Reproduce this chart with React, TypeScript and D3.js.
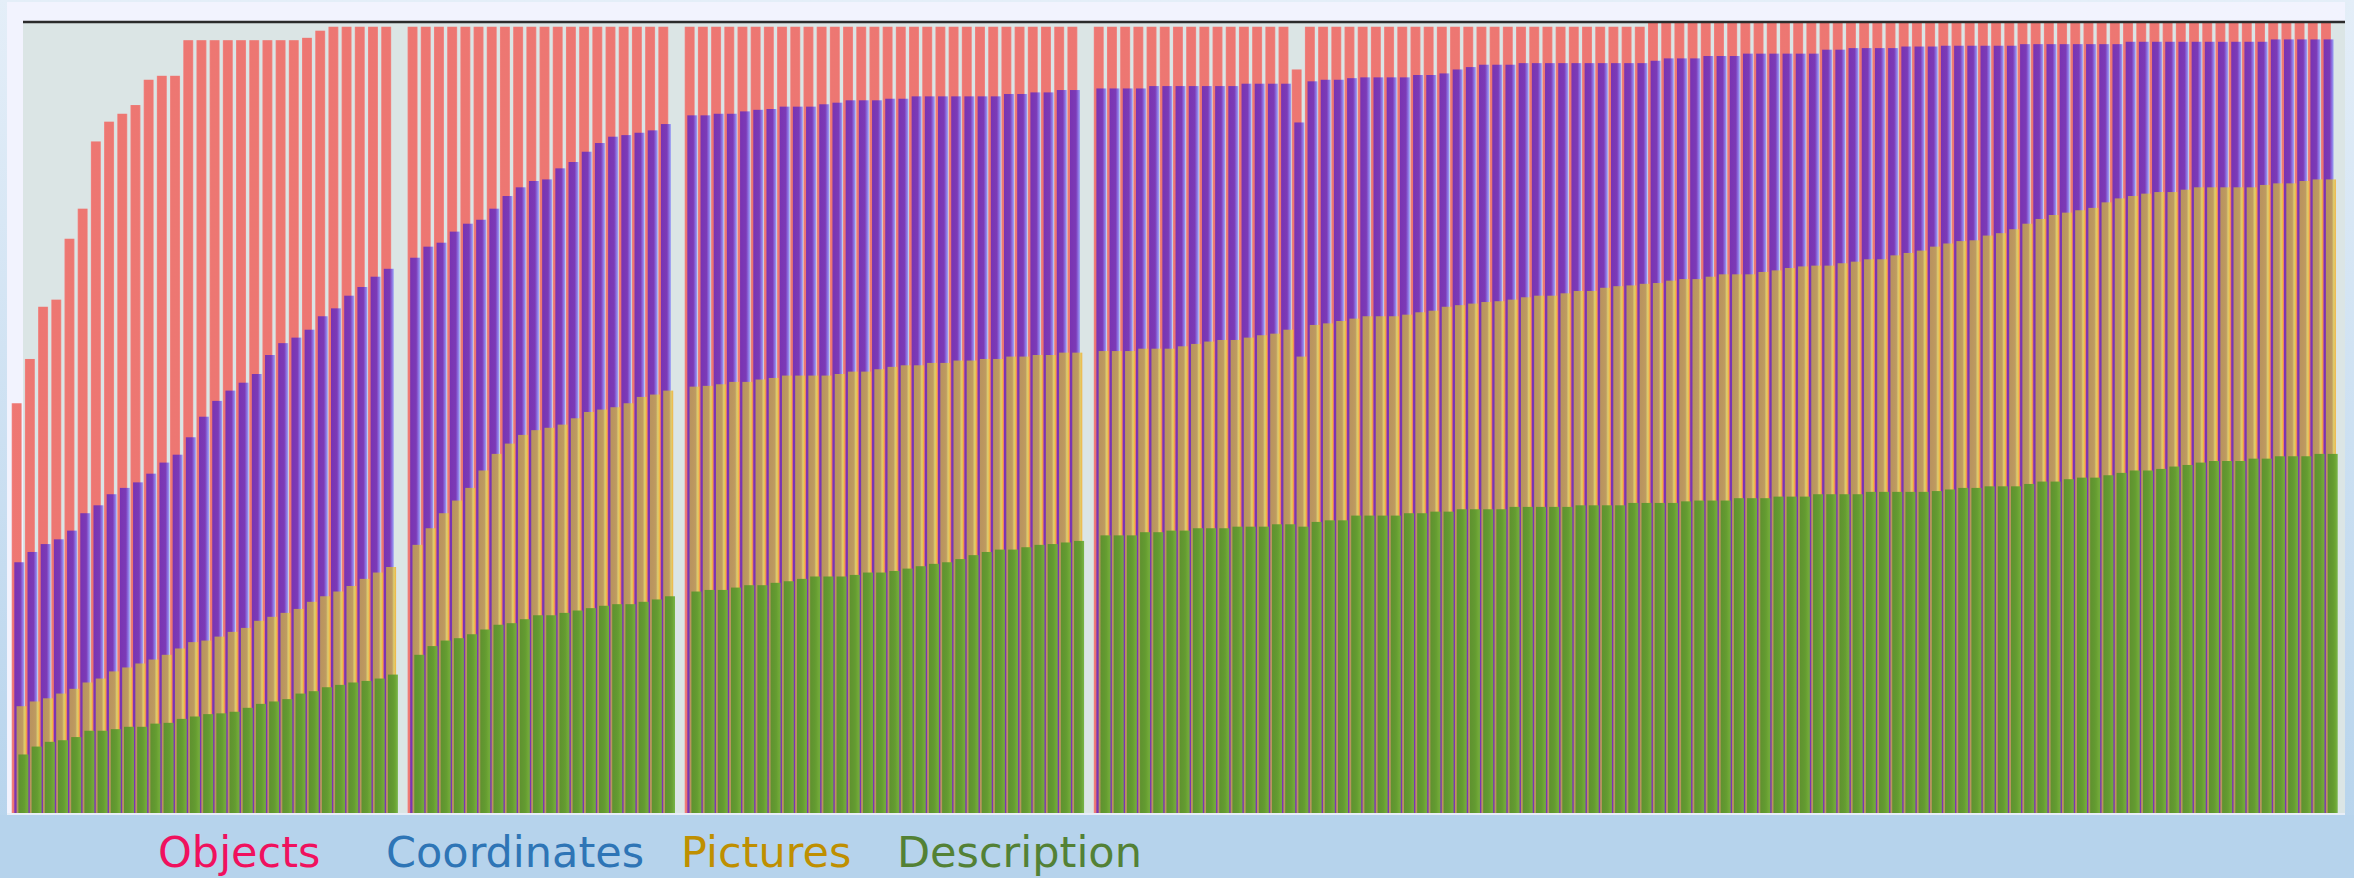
import { useEffect, useRef } from "react";
import * as d3 from "d3";

// bars per block, left to right
const groupSizes = [29, 20, 30, 94];

// cumulative shares (%), one value per bar
const objects = [
  51.8, 57.4, 64.0, 64.9, 72.6, 76.4, 84.9, 87.4, 88.4, 89.5, 92.7, 93.2, 93.2, 97.7, 97.7, 97.7, 97.7, 97.7, 97.7, 97.7, 97.7, 97.7, 98.0, 98.9, 99.4, 99.4, 99.4, 99.4, 99.4,
  99.4, 99.4, 99.4, 99.4, 99.4, 99.4, 99.4, 99.4, 99.4, 99.4, 99.4, 99.4, 99.4, 99.4, 99.4, 99.4, 99.4, 99.4, 99.4, 99.4,
  99.4, 99.4, 99.4, 99.4, 99.4, 99.4, 99.4, 99.4, 99.4, 99.4, 99.4, 99.4, 99.4, 99.4, 99.4, 99.4, 99.4, 99.4, 99.4, 99.4, 99.4, 99.4, 99.4, 99.4, 99.4, 99.4, 99.4, 99.4, 99.4, 99.4,
  99.4, 99.4, 99.4, 99.4, 99.4, 99.4, 99.4, 99.4, 99.4, 99.4, 99.4, 99.4, 99.4, 99.4, 99.4, 94.0, 99.4, 99.4, 99.4, 99.4, 99.4, 99.4, 99.4, 99.4, 99.4, 99.4,
  99.4, 99.4, 99.4, 99.4, 99.4, 99.4, 99.4, 99.4, 99.4, 99.4, 99.4, 99.4, 99.4, 99.4, 99.4, 99.4, 100, 100, 100, 100, 100, 100, 100, 100, 100, 100,
  100, 100, 100, 100, 100, 100, 100, 100, 100, 100, 100, 100, 100, 100, 100, 100, 100, 100, 100, 100, 100, 100, 100, 100, 100, 100,
  100, 100, 100, 100, 100, 100, 100, 100, 100, 100, 100, 100, 100, 100, 100, 100, 100, 100, 100, 100, 100, 100, 100, 100, 100, 100,
];

const coordinates = [
  31.7, 33.0, 34.0, 34.6, 35.7, 37.9, 38.9, 40.3, 41.1, 41.8, 42.9, 44.3, 45.3, 47.5, 50.1, 52.1, 53.4, 54.4, 55.5, 57.9, 59.4, 60.1, 61.1, 62.8, 63.8, 65.4, 66.5, 67.8, 68.8,
  70.2, 71.6, 72.1, 73.5, 74.5, 75.0, 76.4, 78.0, 79.1, 79.9, 80.1, 81.5, 82.3, 83.6, 84.7, 85.5, 85.7, 86.0, 86.3, 87.1,
  88.2, 88.2, 88.4, 88.4, 88.7, 88.9, 89.0, 89.3, 89.3, 89.3, 89.6, 89.8, 90.1, 90.1, 90.1, 90.3, 90.3, 90.6, 90.6, 90.6, 90.6, 90.6, 90.6, 90.6, 90.9, 90.9, 91.1, 91.1, 91.4, 91.4,
  91.6, 91.6, 91.6, 91.6, 91.9, 91.9, 91.9, 91.9, 91.9, 91.9, 91.9, 92.2, 92.2, 92.2, 92.2, 87.3, 92.5, 92.7, 92.7, 92.9, 93.0, 93.0, 93.0, 93.0, 93.3, 93.3,
  93.5, 94.0, 94.3, 94.6, 94.6, 94.6, 94.8, 94.8, 94.8, 94.8, 94.8, 94.8, 94.8, 94.8, 94.8, 94.8, 95.1, 95.4, 95.4, 95.4, 95.7, 95.7, 95.7, 96.0, 96.0, 96.0,
  96.0, 96.0, 96.0, 96.5, 96.5, 96.7, 96.7, 96.7, 96.7, 96.9, 96.9, 96.9, 97.0, 97.0, 97.0, 97.0, 97.0, 97.0, 97.2, 97.2, 97.2, 97.2, 97.2, 97.2, 97.2, 97.2,
  97.5, 97.5, 97.5, 97.5, 97.5, 97.5, 97.5, 97.5, 97.5, 97.5, 97.5, 97.8, 97.8, 97.8, 97.8, 97.8,
];

const pictures = [
  13.5, 14.1, 14.5, 15.1, 15.7, 16.5, 17.0, 17.9, 18.4, 18.9, 19.4, 20.0, 20.8, 21.6, 21.8, 22.3, 22.9, 23.4, 24.3, 24.8, 25.3, 25.8, 26.7, 27.4, 28.0, 28.7, 29.6, 30.4, 31.1,
  33.9, 36.0, 37.9, 39.5, 41.1, 43.3, 45.4, 46.7, 47.8, 48.4, 48.7, 49.1, 49.9, 50.7, 51.0, 51.3, 51.8, 52.6, 52.9, 53.4,
  53.9, 54.0, 54.2, 54.5, 54.5, 54.8, 55.0, 55.3, 55.3, 55.3, 55.3, 55.5, 55.8, 55.8, 56.1, 56.4, 56.6, 56.6, 56.9, 56.9, 57.2, 57.2, 57.4, 57.4, 57.7, 57.7, 57.9, 57.9, 58.2, 58.2,
  58.4, 58.4, 58.4, 58.7, 58.7, 58.7, 59.0, 59.3, 59.6, 59.8, 59.8, 60.1, 60.4, 60.6, 61.1, 57.7, 61.7, 61.9, 62.2, 62.5, 62.8, 62.8, 62.8, 63.0, 63.3, 63.5,
  64.0, 64.2, 64.4, 64.6, 64.7, 64.9, 65.2, 65.4, 65.4, 65.7, 66.0, 66.0, 66.4, 66.6, 66.7, 66.9, 67.0, 67.3, 67.5, 67.5, 67.8, 68.1, 68.1, 68.1, 68.4, 68.6,
  68.9, 69.1, 69.2, 69.2, 69.5, 69.7, 70.0, 70.0, 70.5, 70.8, 71.1, 71.6, 72.0, 72.3, 72.4, 73.0, 73.3, 73.8, 74.5, 75.1, 75.6, 75.9, 76.2, 76.5, 77.2, 77.7,
  78.0, 78.3, 78.5, 78.5, 78.8, 79.1, 79.1, 79.1, 79.1, 79.1, 79.4, 79.6, 79.6, 79.9, 80.1, 80.1,
];

const description = [
  7.4, 8.4, 9.0, 9.2, 9.6, 10.4, 10.4, 10.6, 10.9, 10.9, 11.3, 11.4, 11.9, 12.2, 12.5, 12.6, 12.8, 13.3, 13.8, 14.1, 14.4, 15.1, 15.4, 15.9, 16.2, 16.5, 16.7, 17.0, 17.5,
  20.0, 21.1, 21.8, 22.1, 22.6, 23.2, 23.8, 24.0, 24.5, 25.0, 25.0, 25.3, 25.6, 25.9, 26.2, 26.4, 26.4, 26.7, 27.0, 27.4,
  28.0, 28.2, 28.2, 28.5, 28.8, 28.8, 29.1, 29.3, 29.6, 29.9, 29.9, 29.9, 30.1, 30.4, 30.4, 30.6, 30.9, 31.2, 31.5, 31.7, 32.1, 32.6, 33.0, 33.3, 33.3, 33.6, 33.9, 34.0, 34.2, 34.4,
  35.1, 35.1, 35.1, 35.5, 35.5, 35.7, 35.7, 36.0, 36.0, 36.0, 36.2, 36.2, 36.2, 36.5, 36.5, 36.2, 36.8, 37.0, 37.0, 37.6, 37.6, 37.6, 37.6, 37.9, 37.9, 38.1,
  38.1, 38.4, 38.4, 38.4, 38.4, 38.7, 38.7, 38.7, 38.7, 38.7, 38.9, 38.9, 38.9, 38.9, 39.2, 39.2, 39.2, 39.2, 39.4, 39.5, 39.5, 39.5, 39.8, 39.8, 39.8, 40.0,
  40.0, 40.0, 40.3, 40.3, 40.3, 40.3, 40.6, 40.6, 40.6, 40.6, 40.6, 40.7, 40.9, 41.1, 41.1, 41.3, 41.3, 41.3, 41.6, 41.9, 41.9, 42.2, 42.4, 42.4, 42.7, 43.0,
  43.3, 43.3, 43.5, 43.8, 44.0, 44.3, 44.5, 44.5, 44.5, 44.8, 44.8, 45.1, 45.1, 45.1, 45.4, 45.4,
];

const legendLabels = ["Objects", "Coordinates", "Pictures", "Description"];
const legendColors = ["#f0115e", "#2e75b6", "#bf8f00", "#538135"];

export default function App() {
  const svgRef = useRef<SVGSVGElement>(null);

  useEffect(() => {
    if (!svgRef.current) return;
    const W = 2354;
    const H = 878;
    const svg = d3.select(svgRef.current);
    svg.selectAll("*").remove();

    const defs = svg.append("defs");

    const addGrad = (id: string, stops: [number, string][], vertical = false) => {
      const gr = defs
        .append("linearGradient")
        .attr("id", id)
        .attr("x1", 0)
        .attr("y1", 0)
        .attr("x2", vertical ? 0 : 1)
        .attr("y2", vertical ? 1 : 0);
      stops.forEach(([o, c]) => gr.append("stop").attr("offset", o).attr("stop-color", c));
    };

    addGrad("pageBg", [[0, "#e4eef8"], [0.9, "#b9d5ed"], [1, "#b6d3ec"]], true);
    addGrad("gRed", [[0, "#f3827f"], [0.12, "#ee716c"], [0.88, "#ee716c"], [1, "#f08a87"]]);
    addGrad("gPurple", [[0, "#7330b5"], [0.6, "#7637ba"], [0.8, "#8666de"], [1, "#9ba3f6"]]);
    addGrad("gTan", [[0, "#bb985a"], [0.6, "#c19e5b"], [0.76, "#dcca68"], [0.88, "#e8c458"], [1, "#f4ad33"]]);
    addGrad("gGreen", [[0, "#5a922d"], [0.6, "#5f9b2e"], [1, "#72b23c"]]);

    // page + panel
    svg.append("rect").attr("width", W).attr("height", H).attr("fill", "url(#pageBg)");
    svg.append("rect").attr("x", 0).attr("y", 815).attr("width", W).attr("height", H - 815).attr("fill", "#b6d3ec");
    svg.append("rect").attr("x", 7).attr("y", 2).attr("width", 2338).attr("height", 813).attr("fill", "#f2f3fe");
    svg.append("rect").attr("x", 23).attr("y", 22).attr("width", 2322).attr("height", 791).attr("fill", "#dbe5e5");

    // flatten bars into slots, one empty slot between blocks
    const rows: { slot: number; i: number }[] = [];
    let slot = 0;
    let i = 0;
    groupSizes.forEach((n) => {
      for (let j = 0; j < n; j++) rows.push({ slot: slot++, i: i++ });
      slot++;
    });
    const nSlots = slot - 1;
    const pitch = 13.196;
    const x0 = 11.7;

    const x = d3
      .scaleBand<number>()
      .domain(d3.range(nSlots))
      .range([x0, x0 + nSlots * pitch])
      .padding(0);
    const y = d3.scaleLinear().domain([0, 100]).range([813, 22]);

    const barW = 10;
    const series = [
      { values: objects, dx: 0, fill: "url(#gRed)" },
      { values: coordinates, dx: 2.6, fill: "url(#gPurple)" },
      { values: pictures, dx: 4.9, fill: "url(#gTan)" },
      { values: description, dx: 6.7, fill: "url(#gGreen)" },
    ];

    const g = svg.append("g");
    series.forEach((s) => {
      g.append("g")
        .selectAll("rect")
        .data(rows)
        .join("rect")
        .attr("x", (d) => (x(d.slot) ?? 0) + s.dx)
        .attr("y", (d) => y(s.values[d.i]))
        .attr("width", barW)
        .attr("height", (d) => y(0) - y(s.values[d.i]))
        .attr("fill", s.fill)
        .attr("opacity", 0.95);
    });

    // top rule
    svg
      .append("line")
      .attr("x1", 23)
      .attr("x2", 2345)
      .attr("y1", y(100))
      .attr("y2", y(100))
      .attr("stroke", "#2b2b2b")
      .attr("stroke-width", 2.5);

    // bottom edge of panel
    svg
      .append("line")
      .attr("x1", 7)
      .attr("x2", 2345)
      .attr("y1", 814)
      .attr("y2", 814)
      .attr("stroke", "#e8eef7")
      .attr("stroke-width", 2);

    // legend
    const legendX = [158, 386, 681, 897];
    svg
      .append("g")
      .selectAll("text")
      .data(legendLabels)
      .join("text")
      .attr("x", (_, k) => legendX[k])
      .attr("y", 867)
      .attr("fill", (_, k) => legendColors[k])
      .attr("font-family", "DejaVu Sans")
      .attr("font-size", 43)
      .text((d) => d);
  }, []);

  return (
    <svg
      ref={svgRef}
      width={2354}
      height={878}
      style={{ position: "absolute", left: 0, top: 0, display: "block" }}
    />
  );
}
